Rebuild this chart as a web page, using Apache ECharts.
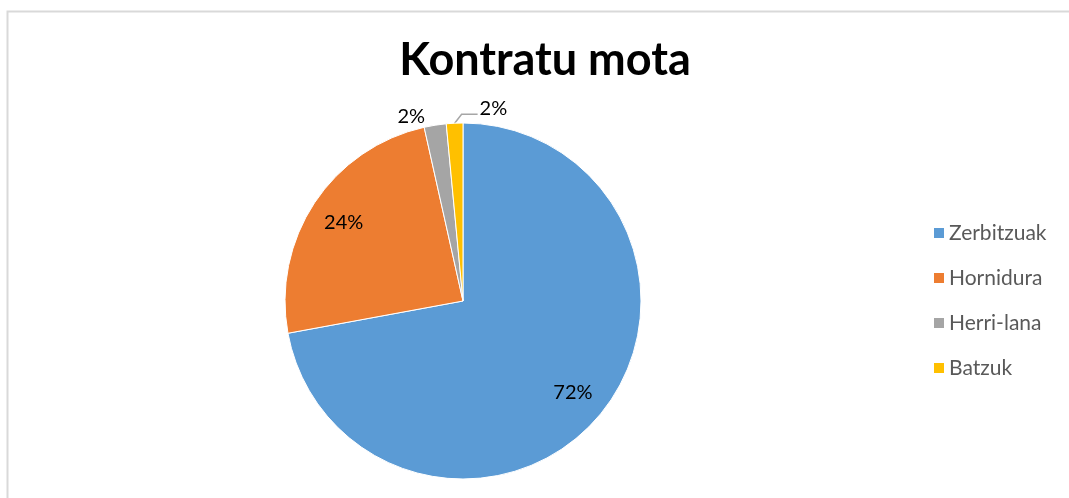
<!DOCTYPE html>
<html>
<head>
<meta charset="utf-8">
<script src="https://cdn.jsdelivr.net/npm/echarts@6/dist/echarts.min.js"></script>
<style>
  html, body { margin: 0; padding: 0; background: #fff; }
  #main { width: 1069px; height: 498px; }
</style>
</head>
<body>
<div id="main"></div>
<script>
var categories = ['Zerbitzuak', 'Hornidura', 'Herri-lana', 'Batzuk'];
var values = [72.1, 24.4, 2.0, 1.5];
var shownLabels = ['72%', '24%', '2%', '2%'];
var colors = ['#5B9BD5', '#ED7D31', '#A5A5A5', '#FFC000'];

var myChart = echarts.init(document.getElementById('main'));

var pieData = categories.map(function (name, i) {
    return { name: name, value: values[i], itemStyle: { color: colors[i] } };
});

var option = {
    animation: false,
    graphic: [{
        type: 'rect',
        shape: { x: 7.5, y: 11.5, width: 1100, height: 600 },
        style: { fill: 'none', stroke: '#d9d9d9', lineWidth: 2 },
        silent: true
    }],
    title: {
        text: 'Kontratu mota',
        left: 540,
        top: 33,
        textAlign: 'center',
        textStyle: { fontFamily: 'Lato', fontWeight: 'bold', fontSize: 45, color: '#000' }
    },
    legend: {
        orient: 'vertical',
        left: 932,
        top: 222,
        padding: 0,
        itemWidth: 12,
        itemHeight: 12,
        itemGap: 23,
        icon: 'rect',
        data: categories,
        textStyle: { fontFamily: 'Lato', fontSize: 21, color: '#595959', lineHeight: 22, padding: [0, 0, 0, -1] }
    },
    series: [
        {
            // visible pie, with outside labels for the small slices
            type: 'pie',
            center: [463, 301],
            radius: [0, 178],
            startAngle: 90,
            clockwise: true,
            avoidLabelOverlap: false,
            itemStyle: { borderColor: '#fff', borderWidth: 1 },
            label: {
                show: true,
                position: 'outside',
                fontFamily: 'Lato',
                fontSize: 20,
                color: '#000',
                formatter: function (p) { return p.dataIndex > 1 ? shownLabels[p.dataIndex] : ''; }
            },
            labelLine: { show: true, length: 8, length2: 12, lineStyle: { color: '#a6a6a6', width: 1.5 } },
            labelLayout: function (params) {
                var p0 = params.labelLinePoints ? params.labelLinePoints[0] : null;
                if (!p0) return {};
                if (params.dataIndex === 2) {
                    return { x: p0[0] - 10, y: p0[1] - 9, align: 'right', verticalAlign: 'middle', labelLinePoints: [p0, p0, p0] };
                }
                if (params.dataIndex === 3) {
                    return {
                        x: p0[0] + 25, y: p0[1] - 15, align: 'left', verticalAlign: 'middle',
                        labelLinePoints: [p0, [p0[0] + 7, p0[1] - 9], [p0[0] + 23, p0[1] - 9]]
                    };
                }
                return { labelLinePoints: [p0, p0, p0] };
            },
            data: pieData
        },
        {
            // transparent ring carrying the inside labels further out
            type: 'pie',
            center: [463, 301],
            radius: [102, 178],
            startAngle: 90,
            clockwise: true,
            silent: true,
            legendHoverLink: false,
            itemStyle: { color: 'rgba(0,0,0,0)' },
            label: {
                show: true,
                position: 'inside',
                fontFamily: 'Lato',
                fontSize: 20,
                color: '#000',
                formatter: function (p) { return p.dataIndex < 2 ? shownLabels[p.dataIndex] : ''; }
            },
            labelLine: { show: false },
            data: categories.map(function (name, i) { return { name: name + ' ', value: values[i] }; })
        }
    ]
};

myChart.setOption(option);
</script>
</body>
</html>
